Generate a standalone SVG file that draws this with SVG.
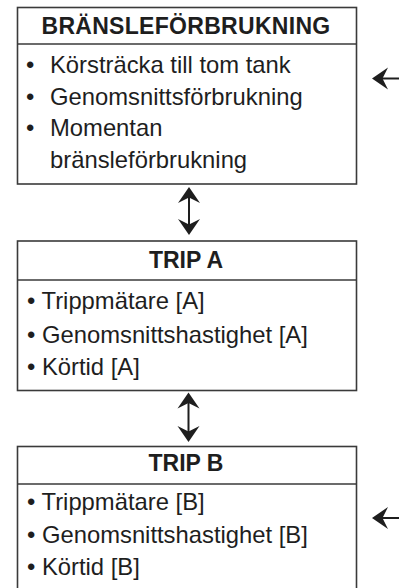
<svg xmlns="http://www.w3.org/2000/svg" width="399" height="588" viewBox="0 0 399 588">
  <style>
    .box { fill: #ffffff; stroke: #3a3a3a; stroke-width: 1.6; }
    .div { stroke: #3a3a3a; stroke-width: 1.4; }
    .hdr { font-family: "Liberation Sans", Arial, sans-serif; font-weight: bold; font-size: 23px; fill: #1e1e1e; text-anchor: middle; }
    .txt { font-family: "Liberation Sans", Arial, sans-serif; font-size: 23.8px; fill: #1e1e1e; }
    .conn { stroke: #1e1e1e; stroke-width: 2; fill: none; }
  </style>
  <defs>
    <marker id="head" viewBox="-17 -12 18 24" refX="-8" refY="0" markerWidth="18" markerHeight="24" markerUnits="userSpaceOnUse" orient="auto-start-reverse">
      <path d="M0,0 L-16,-11 L-10.5,0 L-16,11 Z" fill="#1e1e1e"/>
    </marker>
  </defs>
  <rect width="399" height="588" fill="#ffffff"/>

  <g id="node-bransle">
    <rect class="box" x="17.5" y="7.5" width="339" height="176.5"/>
    <line class="div" x1="17.5" y1="44" x2="356.5" y2="44"/>
    <text class="hdr" x="186" y="33.5" letter-spacing="0.3">BRÄNSLEFÖRBRUKNING</text>
    <text class="txt" x="26" y="73">•</text>
    <text class="txt" x="50" y="73">Körsträcka till tom tank</text>
    <text class="txt" x="26" y="104.5">•</text>
    <text class="txt" x="50" y="104.5">Genomsnittsförbrukning</text>
    <text class="txt" x="26" y="136">•</text>
    <text class="txt" x="50" y="136">Momentan</text>
    <text class="txt" x="50" y="167.5">bränsleförbrukning</text>
  </g>

  <g id="node-trip-a">
    <rect class="box" x="17.5" y="241" width="339" height="149.5"/>
    <line class="div" x1="17.5" y1="280" x2="356.5" y2="280"/>
    <text class="hdr" x="186" y="268">TRIP A</text>
    <text class="txt" x="27" y="309">• Trippmätare [A]</text>
    <text class="txt" x="27" y="342.5">• Genomsnittshastighet [A]</text>
    <text class="txt" x="27" y="374.5">• Körtid [A]</text>
  </g>

  <g id="node-trip-b">
    <rect class="box" x="17.5" y="446.5" width="339" height="150"/>
    <line class="div" x1="17.5" y1="484" x2="356.5" y2="484"/>
    <text class="hdr" x="186" y="470.5">TRIP B</text>
    <text class="txt" x="27" y="509.5">• Trippmätare [B]</text>
    <text class="txt" x="27" y="542.5">• Genomsnittshastighet [B]</text>
    <text class="txt" x="27" y="574.5">• Körtid [B]</text>
  </g>

  <g id="connectors">
    <line class="conn" x1="189" y1="195" x2="189" y2="227" marker-start="url(#head)" marker-end="url(#head)"/>
    <line class="conn" x1="188.5" y1="400.5" x2="188.5" y2="434" marker-start="url(#head)" marker-end="url(#head)"/>
    <line class="conn" x1="399" y1="78.5" x2="380" y2="78.5" marker-end="url(#head)"/>
    <line class="conn" x1="399" y1="518" x2="380" y2="518" marker-end="url(#head)"/>
  </g>
</svg>
